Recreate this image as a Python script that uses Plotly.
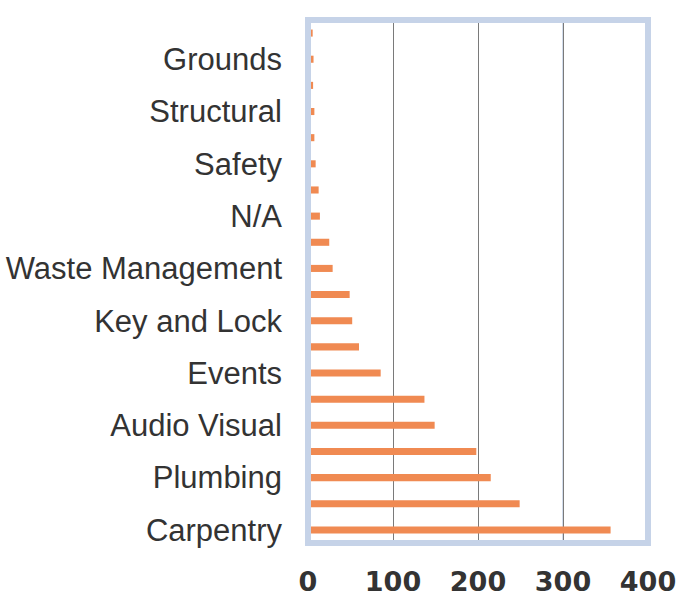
import plotly.graph_objects as go

# Categories from bottom (position 0) to top (position 19); None = unlabeled row
labels = ["Carpentry", None, "Plumbing", None, "Audio Visual", None, "Events", None,
          "Key and Lock", None, "Waste Management", None, "N/A", None, "Safety", None,
          "Structural", None, "Grounds", None]
values = [356, 249, 215, 198, 149, 137, 85.5, 60, 52, 49, 29, 25, 14, 12.5, 9, 7.5, 7.5, 6, 6.5, 5.5]
positions = list(range(len(values)))
x_ticks = [0, 100, 200, 300, 400]

tickvals = [p for p, l in zip(positions, labels) if l is not None]
ticktext = [l for l in labels if l is not None]

fig = go.Figure(go.Bar(
    x=values, y=positions, orientation="h",
    marker=dict(color="#f08a52", line=dict(width=0)),
    width=0.27,
))

fig.add_vline(x=300, line=dict(color="#c3d0e6", width=1.5), layer="below")

fig.add_shape(type="rect", xref="paper", yref="paper", x0=0, x1=1, y0=0, y1=1,
              line=dict(color="#c6d3e8", width=6), layer="above")

fig.update_layout(
    width=678, height=604,
    margin=dict(l=308, r=30, t=20, b=61),
    paper_bgcolor="white", plot_bgcolor="white",
    showlegend=False,
    font=dict(family="Liberation Sans, Arial, sans-serif", color="#333333"),
)
fig.update_xaxes(
    range=[0, 400], tickvals=x_ticks, ticktext=[str(t) for t in x_ticks],
    showgrid=True, gridcolor="#7a7a7a", gridwidth=1.2,
    zeroline=False, showline=False, automargin=False,
    tickfont=dict(size=27, family="DejaVu Sans, sans-serif", color="#333333", weight="bold"),
    ticklabelstandoff=20,
)
fig.update_yaxes(
    range=[-0.5, 19.5], tickvals=tickvals, ticktext=ticktext,
    showgrid=False, zeroline=False, showline=False, automargin=False,
    tickfont=dict(size=31, family="Liberation Sans, Arial, sans-serif", color="#333333"),
    ticklabelstandoff=25,
)

fig.write_html("out.html")
